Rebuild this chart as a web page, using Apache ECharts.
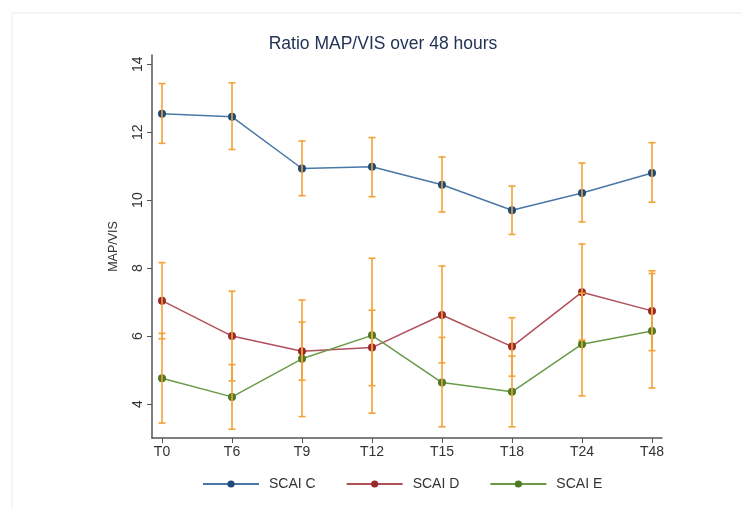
<!DOCTYPE html>
<html>
<head>
<meta charset="utf-8">
<script src="https://cdn.jsdelivr.net/npm/echarts@6/dist/echarts.min.js"></script>
<style>
  html, body { margin: 0; padding: 0; background: #fff; }
  #main { width: 742px; height: 508px; }
</style>
</head>
<body>
<div id="main"></div>
<script>
// time points
var timePoints = ['T0', 'T6', 'T9', 'T12', 'T15', 'T18', 'T24', 'T48']
var yTicks = [4, 6, 8, 10, 12, 14]

// means
var scaiC = [12.54, 12.45, 10.93, 10.98, 10.45, 9.70, 10.21, 10.80]
var scaiD = [7.04, 6.00, 5.55, 5.66, 6.62, 5.69, 7.29, 6.74]
var scaiE = [4.76, 4.21, 5.33, 6.02, 4.63, 4.36, 5.76, 6.15]

// error bar ends (low / high)
var scaiCLow = [11.67, 11.49, 10.13, 10.10, 9.65, 8.99, 9.36, 9.94]
var scaiCHigh = [13.43, 13.45, 11.74, 11.84, 11.27, 10.41, 11.09, 11.69]
var scaiDLow = [5.92, 4.68, 4.70, 4.54, 5.21, 4.82, 5.88, 5.57]
var scaiDHigh = [8.16, 7.32, 6.41, 6.76, 8.06, 6.54, 8.71, 7.92]
var scaiELow = [3.44, 3.26, 3.63, 3.73, 3.33, 3.33, 4.24, 4.47]
var scaiEHigh = [6.08, 5.16, 7.06, 8.29, 5.96, 5.41, 7.26, 7.84]

function toPoints (vals) {
  return vals.map(function (v, i) { return [i, v] })
}

var errData = []
;[[scaiCLow, scaiCHigh], [scaiDLow, scaiDHigh], [scaiELow, scaiEHigh]].forEach(function (pair) {
  for (var i = 0; i < timePoints.length; i++) {
    errData.push([i, pair[0][i], pair[1][i]])
  }
})

var myChart = echarts.init(document.getElementById('main'))

function lineSeries (name, data, lineColor, dotColor) {
  return {
    name: name,
    type: 'line',
    data: toPoints(data),
    symbol: 'circle',
    symbolSize: 8,
    z: 3,
    lineStyle: { color: lineColor, width: 1.5 },
    itemStyle: { color: dotColor },
    emphasis: { disabled: true }
  }
}

var font = 'Liberation Sans, Arial, sans-serif'

var option = {
  animation: false,
  graphic: [
    {
      type: 'rect',
      shape: { x: 12, y: 13, width: 760, height: 520 },
      style: { fill: 'none', stroke: '#e3eef0', lineWidth: 1 },
      silent: true
    }
  ],
  title: {
    text: 'Ratio MAP/VIS over 48 hours',
    left: 378,
    textAlign: 'center',
    top: 30,
    textStyle: { color: '#233356', fontSize: 17.5, fontWeight: 'normal', fontFamily: font }
  },
  legend: {
    left: 202,
    top: 477,
    padding: 0,
    itemWidth: 56,
    itemHeight: 9,
    itemGap: 30,
    textStyle: { color: '#333', fontSize: 14, fontFamily: font, padding: [0, 0, 0, 5] },
    data: ['SCAI C', 'SCAI D', 'SCAI E']
  },
  grid: { left: 152, right: 80, top: 55, bottom: 70 },
  xAxis: {
    type: 'value',
    min: -0.143,
    max: 7.143,
    splitLine: { show: false },
    axisLine: { show: true, onZero: false, lineStyle: { color: '#555', width: 1.5 } },
    axisTick: { show: true, length: 5, customValues: [0, 1, 2, 3, 4, 5, 6, 7], lineStyle: { color: '#555' } },
    axisLabel: {
      customValues: [0, 1, 2, 3, 4, 5, 6, 7],
      formatter: function (v) { return timePoints[Math.round(v)] },
      color: '#333',
      fontSize: 14,
      margin: 7,
      fontFamily: font
    }
  },
  yAxis: {
    type: 'value',
    min: 3,
    max: 14.27,
    name: 'MAP/VIS',
    nameLocation: 'middle',
    nameRotate: 90,
    nameGap: 32,
    nameTextStyle: { color: '#333', fontSize: 12.5, fontFamily: font },
    splitLine: { show: false },
    axisLine: { show: true, onZero: false, lineStyle: { color: '#555', width: 1.5 } },
    axisTick: { show: true, length: 5, customValues: yTicks, lineStyle: { color: '#555' } },
    axisLabel: {
      customValues: yTicks,
      rotate: 90,
      color: '#333',
      fontSize: 14,
      margin: 7,
      fontFamily: font
    }
  },
  series: [
    lineSeries('SCAI C', scaiC, '#4a78a6', '#1d4a76'),
    lineSeries('SCAI D', scaiD, '#b0505a', '#982a2c'),
    lineSeries('SCAI E', scaiE, '#6a9a48', '#4d7a24'),
    {
      type: 'custom',
      name: 'err',
      z: 5,
      silent: true,
      data: errData,
      renderItem: function (params, api) {
        var x = api.value(0)
        var lo = api.coord([x, api.value(1)])
        var hi = api.coord([x, api.value(2)])
        var w = 3.5
        var st = { stroke: '#f2a236', lineWidth: 1.6 }
        return {
          type: 'group',
          children: [
            { type: 'line', shape: { x1: lo[0], y1: lo[1], x2: hi[0], y2: hi[1] }, style: st },
            { type: 'line', shape: { x1: lo[0] - w, y1: lo[1], x2: lo[0] + w, y2: lo[1] }, style: st },
            { type: 'line', shape: { x1: hi[0] - w, y1: hi[1], x2: hi[0] + w, y2: hi[1] }, style: st }
          ]
        }
      }
    }
  ]
}

myChart.setOption(option, true)
</script>
</body>
</html>
